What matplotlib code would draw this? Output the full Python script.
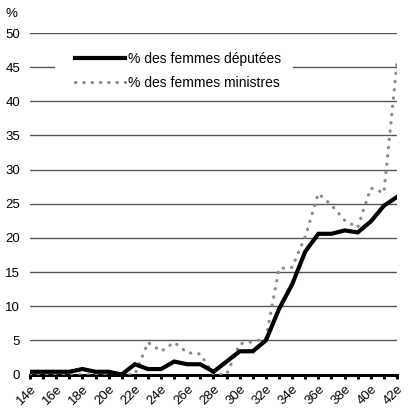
import matplotlib
matplotlib.use("Agg")
import matplotlib.pyplot as plt
from matplotlib.patches import Rectangle
import numpy as np

plt.rcParams['font.family'] = ['Liberation Sans', 'DejaVu Sans']

categories = ["14e", "15e", "16e", "17e", "18e", "19e", "20e", "21e", "22e", "23e",
              "24e", "25e", "26e", "27e", "28e", "29e", "30e", "31e", "32e", "33e",
              "34e", "35e", "36e", "37e", "38e", "39e", "40e", "41e", "42e"]
deputees = [0.4, 0.4, 0.4, 0.4, 0.8, 0.4, 0.4, 0.0, 1.5, 0.8,
            0.8, 1.9, 1.5, 1.5, 0.4, 1.9, 3.4, 3.4, 5.0, 9.6,
            13.2, 18.0, 20.6, 20.6, 21.1, 20.8, 22.4, 24.7, 26.0]
ministres = [0.0, 0.0, 0.0, 0.0, 0.0, 0.0, 0.0, 0.0, 0.0, 4.7,
             3.4, 4.7, 3.2, 3.0, 0.0, 0.0, 4.5, 4.8, 5.3, 15.5,
             15.7, 20.2, 26.5, 24.8, 22.6, 21.5, 27.3, 26.6, 45.7]
yticks = [0, 5, 10, 15, 20, 25, 30, 35, 40, 45, 50]
label_deputees = "% des femmes députées"
label_ministres = "% des femmes ministres"

W = H = 418
fig = plt.figure(figsize=(W / 100, H / 100), dpi=100)
left, right, top, bottom = 30, 397, 33, 374.5
ax = fig.add_axes([left / W, 1 - bottom / H, (right - left) / W, (bottom - top) / H])

x = np.arange(len(categories))

ax.set_xlim(x[0], x[-1])
ax.set_ylim(0, 50)
ax.set_yticks(yticks)
ax.set_yticklabels([str(v) for v in yticks], fontsize=9.5)
ax.yaxis.grid(True, color='#555555', linewidth=1.0)
ax.set_axisbelow(True)
ax.tick_params(axis='y', length=0, pad=7)

ax.set_xticks(x)
ax.set_xticklabels([c if i % 2 == 0 else "" for i, c in enumerate(categories)],
                   rotation=45, ha='right', rotation_mode='anchor', fontsize=9.5)
ax.tick_params(axis='x', direction='out', length=3, width=2.2, color='black', pad=3)

for s in ['top', 'right', 'left']:
    ax.spines[s].set_visible(False)
ax.spines['bottom'].set_color('black')
ax.spines['bottom'].set_linewidth(2.2)
ax.spines['bottom'].set_zorder(2.5)

l1, = ax.plot(x, deputees, color='black', linewidth=3.0, solid_joinstyle='miter',
              zorder=4, label=label_deputees)
l2, = ax.plot(x, ministres, color='#8a8a8a', linewidth=2.3, linestyle=(0, (0.1, 2.5)),
              dash_capstyle='round', zorder=3, label=label_ministres)

# white box behind legend
rect = Rectangle((55 / W, 1 - 93 / H), (293 - 55) / W, (93 - 45) / H,
                 transform=fig.transFigure, facecolor='white', edgecolor='none', zorder=5)
fig.add_artist(rect)

leg = fig.legend(handles=[l1, l2], loc='upper left',
                 bbox_to_anchor=(75 / W, 1 - 52 / H), bbox_transform=fig.transFigure,
                 frameon=False, fontsize=10, borderpad=0, borderaxespad=0,
                 handlelength=3.6, handletextpad=0.25, labelspacing=0.72)
leg.set_zorder(6)

fig.text(5 / W, 1 - 14 / H, "%", fontsize=9.5, va='center', ha='left')

fig.savefig("out.png", dpi=100)
